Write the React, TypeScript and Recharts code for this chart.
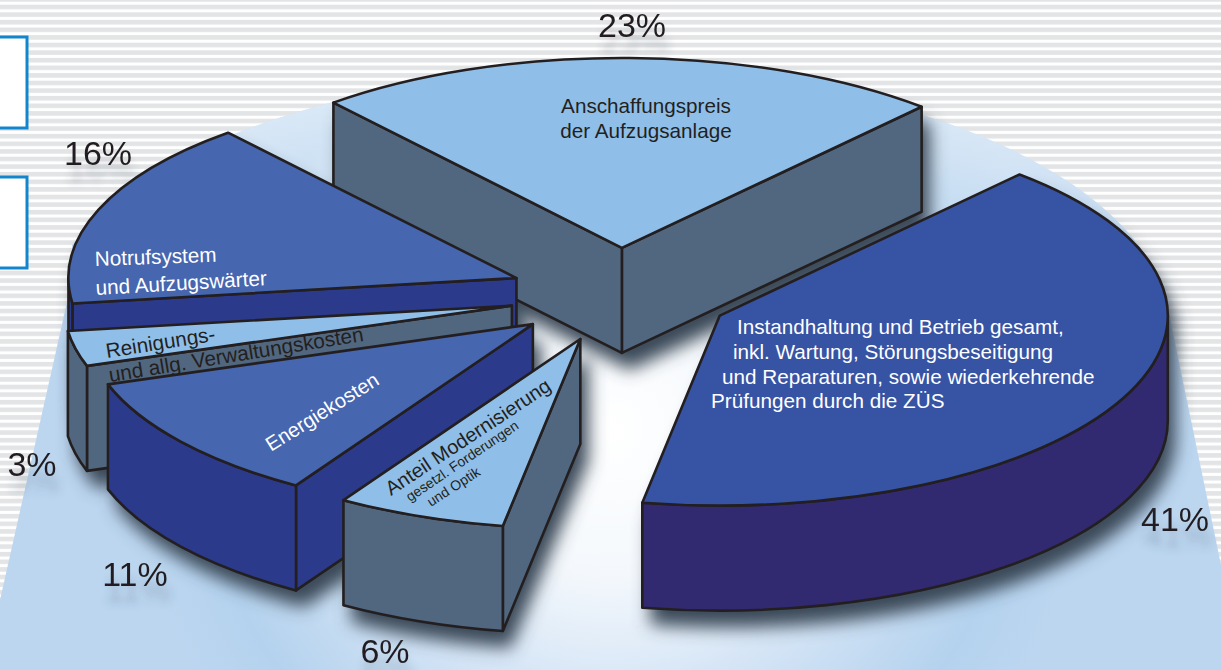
import React from "react";
import { PieChart, Pie } from "recharts";

const W = 1221;
const H = 670;

// data, drawn counter-clockwise from the right end of the "Anschaffungspreis" slice
const sliceNames = ["Anschaffung", "Notruf", "Reinigung", "Energie", "Modernisierung", "Instandhaltung"];
const sliceValues = [22.8, 16, 3, 11, 6.1, 41.1];
const sliceTopColors = ["#8fbfe9", "#4666af", "#8fbfe9", "#4666af", "#8fbfe9", "#3753a4"];
const sliceSideColors = ["#51677f", "#2c3a8c", "#51677f", "#2c3a8c", "#51677f", "#312a70"];
const sliceWallColors = ["#51677f", "#2c3a8c", "#51677f", "#2c3a8c", "#51677f", "#312a70"];

const percentLabels = ["23%", "16%", "3%", "11%", "6%", "41%"];
const percentX = [632, 98, 32, 135, 385, 1175];
const percentY = [37, 165, 476, 586, 663, 531];

const sliceTextCounts = [2, 2, 2, 1, 3, 4];
const textLines = [
  "Anschaffungspreis",
  "der Aufzugsanlage",
  "Notrufsystem",
  "und Aufzugswärter",
  "Reinigungs-",
  "und allg. Verwaltungskosten",
  "Energiekosten",
  "Anteil Modernisierung",
  "gesetzl. Forderungen",
  "und Optik",
  "Instandhaltung und Betrieb gesamt,",
  "inkl. Wartung, Störungsbeseitigung",
  "und Reparaturen, sowie wiederkehrende",
  "Prüfungen durch die ZÜS",
];
// x, y, rotation, size, colour, anchor for each text line
const textLayout: [number, number, number, number, string, string][] = [
  [646, 113, 0, 20.7, "#231f20", "middle"],
  [646, 138, 0, 20.7, "#231f20", "middle"],
  [95, 266, -2, 20.7, "#ffffff", "start"],
  [96, 295, -3.3, 20.7, "#ffffff", "start"],
  [107, 358, -9, 20.7, "#231f20", "start"],
  [110, 382, -9.2, 20.7, "#231f20", "start"],
  [271, 452, -32, 20.2, "#ffffff", "start"],
  [391, 496, -33.5, 20, "#231f20", "start"],
  [410, 502, -34, 14, "#231f20", "start"],
  [431, 507, -33, 14, "#231f20", "start"],
  [737, 334, 0, 20.7, "#ffffff", "start"],
  [733, 359, 0, 20.7, "#ffffff", "start"],
  [722, 384, 0, 20.7, "#ffffff", "start"],
  [711, 408, 0, 20.7, "#ffffff", "start"],
];

const chartData = sliceNames.map((name, i) => ({
  name,
  value: sliceValues[i],
  top: sliceTopColors[i],
  side: sliceSideColors[i],
  wall: sliceWallColors[i],
  textFrom: sliceTextCounts.slice(0, i).reduce((a, b) => a + b, 0),
  textCount: sliceTextCounts[i],
}));

const CX = 620;
const CY = 295;
const RADIUS = 448;
const TILT = 0.424;
const EXPLODE = 111;
const DEPTH = 105;
const STROKE = "#231f20";
const FONT = '"Liberation Sans", Arial, sans-serif';
const rad = (a: number) => (a * Math.PI) / 180;

function sliceFaces(p: any) {
  const { cx, cy, outerRadius: r, startAngle: s, endAngle: e } = p;
  const mid = (s + e) / 2;
  const ox = cx + EXPLODE * Math.cos(rad(mid));
  const oy = cy - EXPLODE * TILT * Math.sin(rad(mid));
  const ry = r * TILT;
  const pt = (a: number, d = 0) => [ox + r * Math.cos(rad(a)), oy - ry * Math.sin(rad(a)) + d];
  const fmt = (q: number[]) => `${q[0].toFixed(2)},${q[1].toFixed(2)}`;
  const apex = [ox, oy];
  const apexD = [ox, oy + DEPTH];
  const big = e - s > 180 ? 1 : 0;
  const top = `M${fmt(apex)} L${fmt(pt(s))} A${r},${ry} 0 ${big} 0 ${fmt(pt(e))} Z`;
  const cut = (a: number) =>
    `M${fmt(apex)} L${fmt(pt(a))} L${fmt(pt(a, DEPTH))} L${fmt(apexD)} Z`;
  const cuts: string[] = [];
  if (Math.sin(rad(s - 90)) < 0) cuts.push(cut(s));
  if (Math.sin(rad(e + 90)) < 0) cuts.push(cut(e));
  const a0 = Math.max(s, 180);
  const a1 = Math.min(e, 360);
  const wall =
    a1 > a0
      ? `M${fmt(pt(a0))} A${r},${ry} 0 ${a1 - a0 > 180 ? 1 : 0} 0 ${fmt(pt(a1))} L${fmt(pt(a1, DEPTH))} A${r},${ry} 0 ${a1 - a0 > 180 ? 1 : 0} 1 ${fmt(pt(a0, DEPTH))} Z`
      : null;
  return { top, cuts, wall };
}

function SliceShape(p: any) {
  const { top, cuts, wall } = sliceFaces(p);
  const d = p.payload ?? p;
  const common = { stroke: STROKE, strokeWidth: 2.6, strokeLinejoin: "round" as const };
  const lines = textLines.slice(d.textFrom, d.textFrom + d.textCount);
  return (
    <g>
      {cuts.map((c, i) => (
        <path key={i} d={c} fill={d.side} {...common} />
      ))}
      {wall && <path d={wall} fill={d.wall} {...common} />}
      <path d={top} fill={d.top} {...common} />
      {lines.map((t, i) => {
        const [x, y, rot, size, color, anchor] = textLayout[d.textFrom + i];
        return (
          <text
            key={t}
            x={x}
            y={y}
            fontFamily={FONT}
            fontSize={size}
            fill={color}
            textAnchor={anchor as any}
            transform={rot ? `rotate(${rot} ${x} ${y})` : undefined}
          >
            {t}
          </text>
        );
      })}
    </g>
  );
}

function ShadowShape(p: any) {
  const { top, cuts, wall } = sliceFaces(p);
  return (
    <g filter="url(#pieShadow)" transform="translate(8 17)">
      {cuts.map((c, i) => (
        <path key={i} d={c} fill="#3b4a58" />
      ))}
      {wall && <path d={wall} fill="#3b4a58" />}
      <path d={top} fill="#3b4a58" />
    </g>
  );
}

export default function App() {
  return (
    <div style={{ position: "absolute", left: 0, top: 0, width: W, height: H, overflow: "hidden", background: "#fff" }}>
      <PieChart width={W} height={H} margin={{ top: 0, right: 0, bottom: 0, left: 0 }}>
        <defs>
          <pattern id="stripes" patternUnits="userSpaceOnUse" x="0" y="4.7" width="20" height="7.6">
            <rect x="0" y="0" width="20" height="4.6" fill="#e3e4e5" />
          </pattern>
          <radialGradient id="glow" gradientUnits="userSpaceOnUse" cx="610" cy="430" r="480">
            <stop offset="0" stopColor="#ffffff" />
            <stop offset="0.3" stopColor="#f4f8fc" />
            <stop offset="0.55" stopColor="#d5e5f6" />
            <stop offset="0.85" stopColor="#b4d2ee" />
            <stop offset="1" stopColor="#bcd6f0" />
          </radialGradient>
          <linearGradient id="topFade" gradientUnits="userSpaceOnUse" x1="0" y1="60" x2="0" y2="300">
            <stop offset="0" stopColor="#ffffff" stopOpacity="0.6" />
            <stop offset="1" stopColor="#ffffff" stopOpacity="0" />
          </linearGradient>
          <filter id="pieShadow" filterUnits="userSpaceOnUse" x="0" y="0" width={W} height={H}>
            <feGaussianBlur stdDeviation="8.5" />
          </filter>
          <filter id="textShadow" filterUnits="userSpaceOnUse" x="0" y="0" width={W} height={H}>
            <feDropShadow dx="3" dy="16" stdDeviation="4.5" floodColor="#3b4a58" floodOpacity="0.3" />
          </filter>
        </defs>
        <rect x={0} y={0} width={W} height={H} fill="#ffffff" />
        <rect x={0} y={0} width={W} height={H} fill="url(#stripes)" />
        <path
          d="M0,600 L72,280 L72,245 A565,262 0 0 1 1168,309 L1221,565 L1221,670 L0,670 Z"
          fill="url(#glow)"
        />
        <path
          d="M0,600 L72,280 L72,245 A565,262 0 0 1 1168,309 L1221,565 L1221,670 L0,670 Z"
          fill="url(#topFade)"
        />
        <rect x={-6} y={37} width={33} height={91} fill="#ffffff" stroke="#1286cc" strokeWidth={3} />
        <rect x={-6} y={177} width={33} height={91} fill="#ffffff" stroke="#1286cc" strokeWidth={3} />
        <Pie
          data={chartData}
          dataKey="value"
          nameKey="name"
          cx={CX}
          cy={CY}
          innerRadius={0}
          outerRadius={RADIUS}
          startAngle={48}
          endAngle={408}
          paddingAngle={0}
          stroke="none"
          shape={ShadowShape}
          isAnimationActive={false}
          legendType="none"
        />
        <Pie
          data={chartData}
          dataKey="value"
          nameKey="name"
          cx={CX}
          cy={CY}
          innerRadius={0}
          outerRadius={RADIUS}
          startAngle={48}
          endAngle={408}
          paddingAngle={0}
          shape={SliceShape}
          isAnimationActive={false}
          legendType="none"
        />
        {percentLabels.map((t, i) => (
          <text
            key={t}
            x={percentX[i]}
            y={percentY[i]}
            fontFamily={FONT}
            fontSize={34}
            fill="#231f20"
            textAnchor="middle"
            filter="url(#textShadow)"
          >
            {t}
          </text>
        ))}
      </PieChart>
    </div>
  );
}
